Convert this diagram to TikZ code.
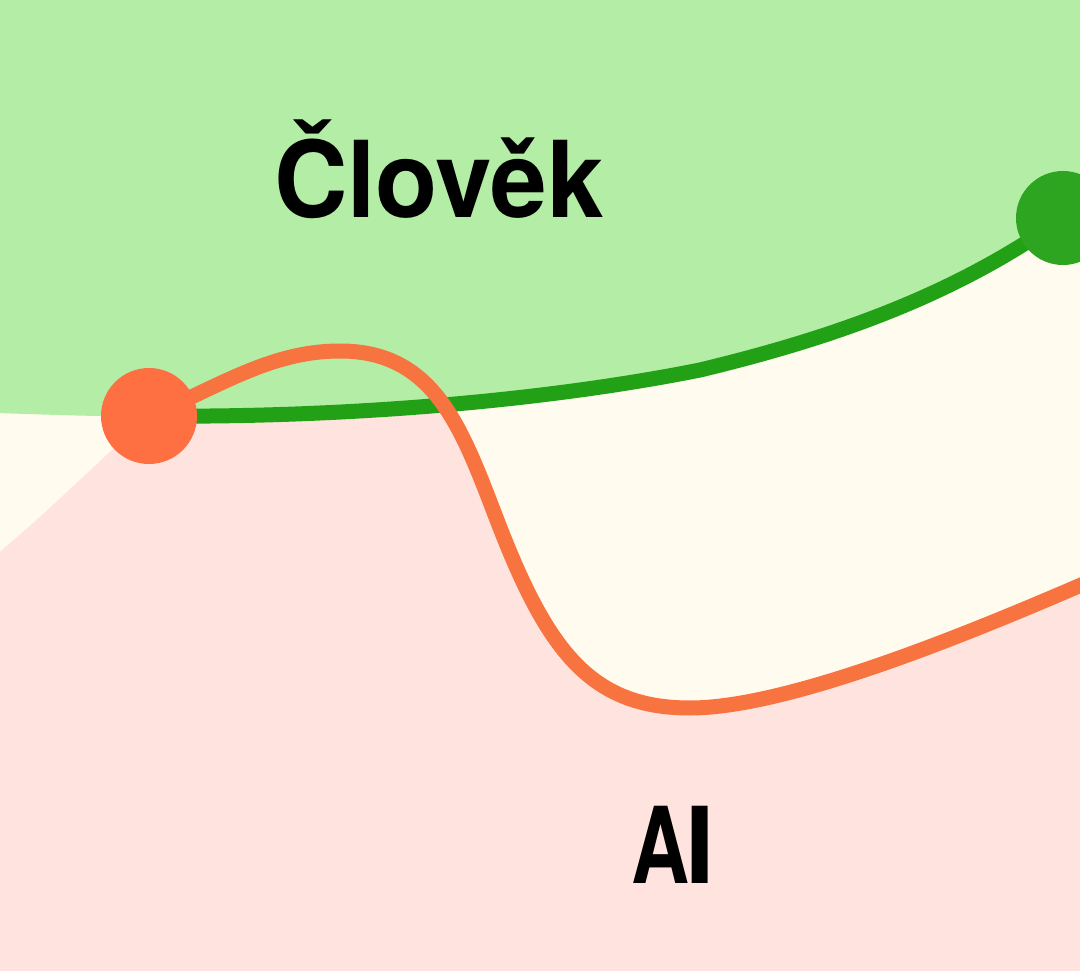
\documentclass[tikz,border=0pt]{standalone}
\usepackage{fontspec}
\setmainfont{TeX Gyre Heros}
\definecolor{bgcream}{HTML}{FFFBEE}
\definecolor{bggreen}{HTML}{B4EDA6}
\definecolor{bgpink}{HTML}{FFE3DF}
\definecolor{lgreen}{HTML}{22A116}
\definecolor{dgreen}{HTML}{2DA520}
\definecolor{lorange}{HTML}{F77340}
\definecolor{dorange}{HTML}{FE6F41}
\begin{document}
\begin{tikzpicture}[x=1pt,y=-1pt,
  dotnode/.style={circle,inner sep=0pt,minimum size=96pt},
  gline/.style={draw=lgreen,line width=15pt},
  oline/.style={draw=lorange,line width=15pt},
  bigtext/.style={inner sep=0pt,anchor=base,font=\bfseries\fontsize{106}{106}\selectfont}]
\useasboundingbox (0,0) rectangle (1080,971);
\fill[bgcream] (0,0) rectangle (1080,971);
% dot positions (nodes, filled later above the lines)
\node[dotnode] (h) at (149,416) {};
\node[dotnode] (g) at (1063,218) {};
\coordinate (gm) at (700,370);
\coordinate (opeak) at (340,351);
\coordinate (osteep) at (497,520);
\coordinate (olow) at (690,708);
\coordinate (oend) at (1095,579);
% pink region
\fill[bgpink] (-5,556) .. controls (50,510) and (100,460) .. (h.center)
  .. controls (219,387) and (270,351) .. (opeak)
  .. controls (435,351) and (462,429) .. (osteep)
  .. controls (547,650) and (590,708) .. (olow)
  .. controls (790,708) and (975,631) .. (oend)
  -- (1095,980) -- (-5,980) -- cycle;
% green region
\fill[bggreen] (-5,-5) -- (-5,413) .. controls (60,415) and (110,417) .. (h.center)
  .. controls (350,418) and (550,400) .. (gm) .. controls (850,334) and (963,289) .. (g.center)
  -- (1095,195) -- (1095,-5) -- cycle;
% lines
\draw[gline] (h.center) .. controls (350,418) and (550,400) .. (gm) .. controls (850,334) and (963,289) .. (g.center);
\draw[oline] (h.center) .. controls (219,387) and (270,351) .. (opeak)
  .. controls (435,351) and (462,429) .. (osteep)
  .. controls (547,650) and (590,708) .. (olow)
  .. controls (790,708) and (975,631) .. (oend);
% dots
\fill[dorange] (h.center) circle (48pt);
\fill[dgreen] (g.center) circle (47pt);
% labels
\node[bigtext] (clovek) at (439,218) {\scalebox{0.96}[1]{Člověk}};
\node[bigtext] (ai) at (673,883) {\scalebox{0.76}[1]{A}\kern-4pt I};
\end{tikzpicture}
\end{document}
